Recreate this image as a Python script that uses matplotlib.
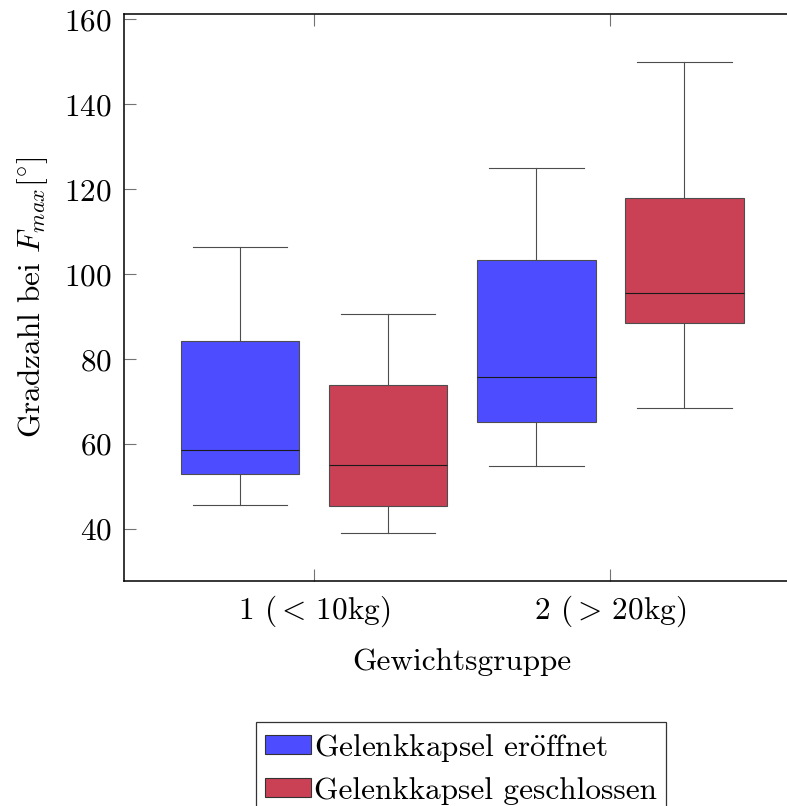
import matplotlib
matplotlib.use("Agg")
import matplotlib.pyplot as plt
from matplotlib.patches import Patch

plt.rcParams["font.family"] = ["cmr10", "DejaVu Serif"]
plt.rcParams["mathtext.fontset"] = "cm"
plt.rcParams["axes.formatter.use_mathtext"] = True

# box statistics (whisker low, Q1, median, Q3, whisker high)
groups = [r"1 ($<\,$10kg)", r"2 ($>\,$20kg)"]
series = [r"Gelenkkapsel er$\mathrm{\ddot{o}}$ffnet", "Gelenkkapsel geschlossen"]
whislo = [[45.7, 54.9], [39.0, 68.4]]
q1 = [[53.0, 65.2], [45.3, 88.5]]
med = [[58.6, 75.7], [55.1, 95.5]]
q3 = [[84.3, 103.4], [74.0, 117.9]]
whishi = [[106.5, 124.9], [90.6, 150.0]]
colors = ["#4d4dff", "#ca4155"]
yticks = [40, 60, 80, 100, 120, 140, 160]

fig = plt.figure(figsize=(7.87, 8.06), dpi=100)
ax = fig.add_axes([0.158, 0.2795, 0.8585, 0.7027])

handles = []
for s in range(len(series)):
    stats = []
    pos = []
    for g in range(len(groups)):
        stats.append({
            "whislo": whislo[s][g], "q1": q1[s][g], "med": med[s][g],
            "q3": q3[s][g], "whishi": whishi[s][g], "fliers": [],
        })
        pos.append(1 + 2 * g + s)
    ax.bxp(stats, positions=pos, widths=0.8, patch_artist=True, showfliers=False,
           boxprops=dict(facecolor=colors[s], edgecolor="0.3", linewidth=0.8),
           medianprops=dict(color="0.1", linewidth=0.8),
           whiskerprops=dict(color="0.3", linewidth=0.8),
           capprops=dict(color="0.3", linewidth=0.8),
           capwidths=0.64, manage_ticks=False)
    handles.append(Patch(facecolor=colors[s], edgecolor="0.2", linewidth=0.8, label=series[s]))

ax.set_xlim(0.22, 4.78)
ax.set_ylim(27.8, 161.2)
ax.set_xticks([1.5, 3.5])
ax.set_xticklabels(groups)
ax.set_yticks(yticks)
ax.tick_params(direction="in", length=8.4, width=0.8, color="0.45",
               top=True, right=True, labelsize=22.5, pad=9)
for sp in ax.spines.values():
    sp.set_linewidth(1.1)
    sp.set_color("black")

ax.set_xlabel("Gewichtsgruppe", fontsize=22.5, labelpad=14)
ax.set_ylabel(r"Gradzahl bei $F_{max}$[$^{\circ}$]", fontsize=22.5, labelpad=10)

leg = fig.legend(handles=handles, loc="upper center", bbox_to_anchor=(0.586, 0.104),
                 fontsize=22.5, frameon=True, fancybox=False, edgecolor="black",
                 handlelength=1.45, handleheight=0.55, handletextpad=0.1,
                 labelspacing=0.42, borderpad=0.3, borderaxespad=0)
leg.get_frame().set_linewidth(0.9)

fig.savefig("out.png", dpi=100)
